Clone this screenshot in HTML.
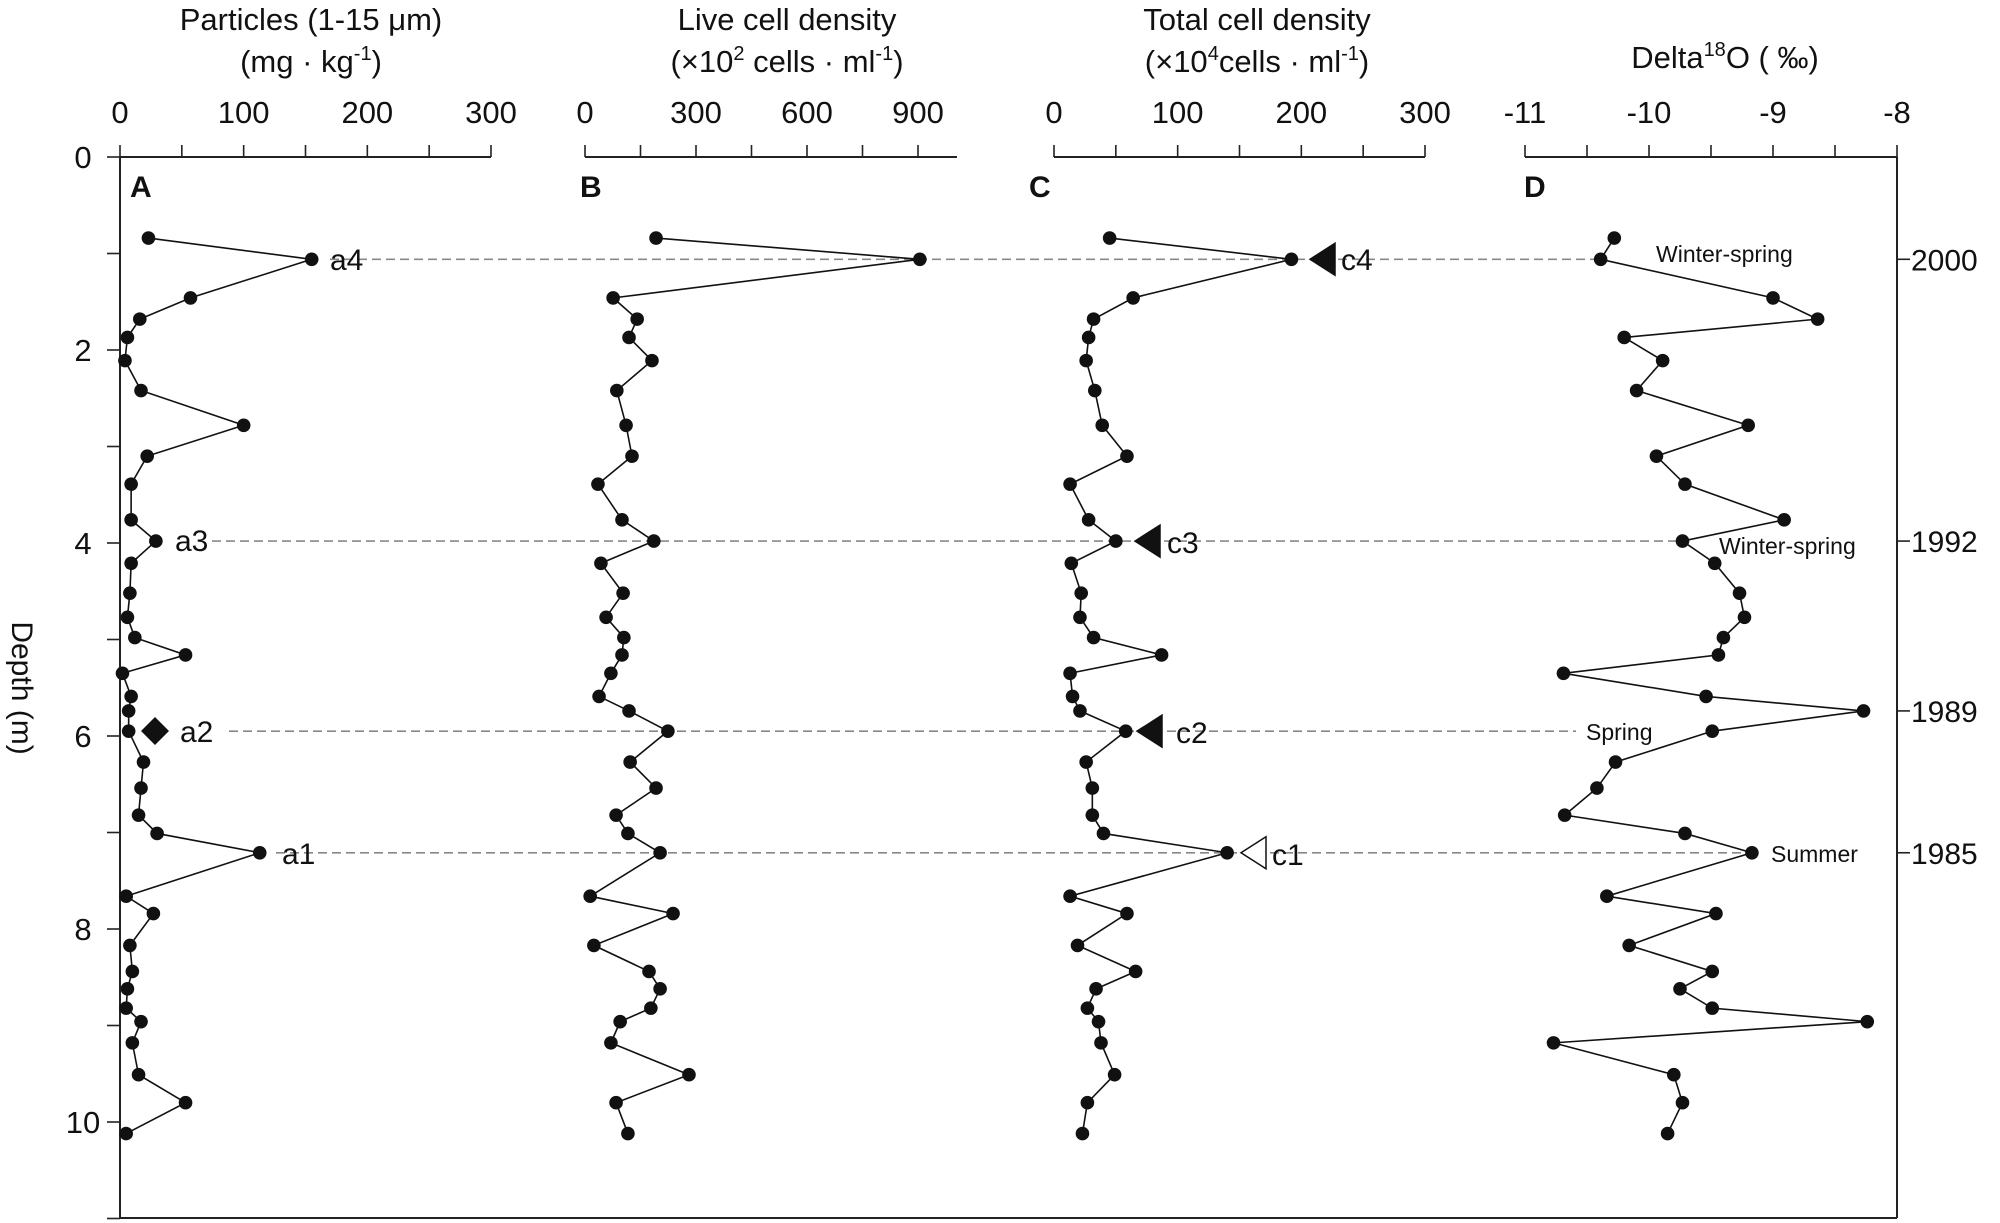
<!DOCTYPE html>
<html><head><meta charset="utf-8">
<style>
html,body{margin:0;padding:0;background:#fff;}
svg{display:block;font-family:"Liberation Sans",Arial,sans-serif;}
</style></head>
<body>
<svg id="chart" width="2000" height="1223" viewBox="0 0 2000 1223" xmlns="http://www.w3.org/2000/svg">
<g id="axes"></g>
<g id="marks"></g>
</svg>
<script>
const depths = [0.84,1.06,1.46,1.68,1.87,2.11,2.42,2.78,3.10,3.39,3.76,3.98,4.21,4.52,4.77,4.98,5.16,5.35,5.59,5.74,5.95,6.27,6.54,6.82,7.01,7.21,7.66,7.84,8.17,8.44,8.62,8.82,8.96,9.18,9.51,9.80,10.12];
const particles = [23,155,57,16,6,4,17,100,22,9,9,29,9,8,6,12,53,2,9,7,7,19,17,15,30,113,5,27,8,10,6,5,17,10,15,53,5];
const liveCells = [192,905,76,141,119,181,86,111,127,35,100,186,43,103,57,105,100,70,38,119,224,122,192,84,116,203,14,238,24,173,203,178,95,70,281,84,116];
const totalCells = [45,192,64,32,28,26,33,39,59,13,28,50,14,22,21,32,87,13,15,21,58,26,31,31,40,140,13,59,19,66,34,27,36,38,49,27,23];
const delta18O = [-10.28,-10.39,-9.00,-8.64,-10.20,-9.89,-10.10,-9.20,-9.94,-9.71,-8.91,-9.73,-9.47,-9.27,-9.23,-9.40,-9.44,-10.69,-9.54,-8.27,-9.49,-10.27,-10.42,-10.68,-9.71,-9.17,-10.34,-9.46,-10.16,-9.49,-9.75,-9.49,-8.24,-10.77,-9.80,-9.73,-9.85];
const depthTicks = [0,2,4,6,8,10];
const ticksA = [0,100,200,300];
const ticksB = [0,300,600,900];
const ticksC = [0,100,200,300];
const ticksD = [-11,-10,-9,-8];
const years = ["2000","1992","1989","1985"];
const yearDepths = [1.06,3.98,5.74,7.21];

const NS="http://www.w3.org/2000/svg";
const axes=document.getElementById('axes'), marks=document.getElementById('marks');
function el(tag,attrs,parent,txt){const e=document.createElementNS(NS,tag);for(const k in attrs)e.setAttribute(k,attrs[k]);if(txt!==undefined)e.textContent=txt;(parent||axes).appendChild(e);return e;}
const yOf=d=>157+d*96.5;
const panels=[
 {key:'a',x0:120,x1:491,v0:0,v1:300,minor:50,tmin:0,tmax:300,labels:ticksA,data:particles,end:491},
 {key:'b',x0:585,x1:918,v0:0,v1:900,minor:150,tmin:0,tmax:900,labels:ticksB,data:liveCells,end:957},
 {key:'c',x0:1054,x1:1425,v0:0,v1:300,minor:50,tmin:0,tmax:300,labels:ticksC,data:totalCells,end:1425},
 {key:'d',x0:1525,x1:1897,v0:-11,v1:-8,minor:0.5,tmin:-11,tmax:-8,labels:ticksD,data:delta18O,end:1897}
];
panels.forEach(p=>{p.x=v=>p.x0+(v-p.v0)/(p.v1-p.v0)*(p.x1-p.x0);});

panels.forEach(p=>{
  const l=el('line',{x1:p.x0,y1:157,x2:p.end,y2:157,stroke:'#222','stroke-width':2});
  
  
  for(let v=p.tmin;v<=p.tmax+1e-9;v+=p.minor){
    const t=el('line',{x1:p.x(v),y1:145,x2:p.x(v),y2:157,stroke:'#222','stroke-width':1.6});
    
    
  }
  p.labels.forEach(v=>{
    const t=el('text',{x:p.x(v),y:123,'font-size':31,'text-anchor':'middle',fill:'#111'},axes,String(v));
    
    
  });
});
const la=el('line',{x1:120,y1:157,x2:120,y2:1218,stroke:'#222','stroke-width':2});


const ra=el('line',{x1:1897,y1:157,x2:1897,y2:1218,stroke:'#222','stroke-width':2});


const ba=el('line',{x1:120,y1:1218,x2:1897,y2:1218,stroke:'#222','stroke-width':2});


for(let d=0;d<=11;d++){
  const t=el('line',{x1:107,y1:yOf(d),x2:120,y2:yOf(d),stroke:'#222','stroke-width':1.6});
  
  
}
depthTicks.forEach(d=>{
  const t=el('text',{x:83,y:yOf(d)+11,'font-size':31,'text-anchor':'middle',fill:'#111'},axes,String(d));
  
  
});
const dl=el('text',{x:0,y:0,'font-size':30,'text-anchor':'middle',fill:'#111',transform:'translate(12,688) rotate(90)'},axes,'Depth (m)');


years.forEach((yr,i)=>{
  const y=yOf(yearDepths[i]);
  const t=el('line',{x1:1897,y1:y,x2:1910,y2:y,stroke:'#222','stroke-width':1.6});
  
  
  const tx=el('text',{x:1911,y:y+11,'font-size':30,fill:'#111'},axes,yr);
  
  
});
</script>
<script>
function title(x,l1,l2html,name){
  const t1=el('text',{x:x,y:30,'font-size':31,'text-anchor':'middle',fill:'#111'},axes,l1);
  
  
  if(l2html){
    const g=el('text',{x:x,y:72,'font-size':31,'text-anchor':'middle',fill:'#111'},axes);
    g.innerHTML=l2html;
    
    
  }
}
title(311,'Particles (1-15 μm)','(mg · kg<tspan dy="-12" font-size="20">-1</tspan><tspan dy="12">)</tspan>','particles');
title(787,'Live cell density','(×10<tspan dy="-12" font-size="20">2</tspan><tspan dy="12"> cells · ml</tspan><tspan dy="-12" font-size="20">-1</tspan><tspan dy="12">)</tspan>','live-cell');
title(1257,'Total cell density','(×10<tspan dy="-12" font-size="20">4</tspan><tspan dy="12">cells · ml</tspan><tspan dy="-12" font-size="20">-1</tspan><tspan dy="12">)</tspan>','total-cell');
const dt=el('text',{x:1725,y:68,'font-size':31,'text-anchor':'middle',fill:'#111'},axes);
dt.innerHTML='Delta<tspan dy="-12" font-size="20">18</tspan><tspan dy="12">O ( ‰)</tspan>';


[['A',130],['B',580],['C',1029],['D',1524]].forEach(([s,x])=>{
  const t=el('text',{x:x,y:197,'font-size':30,'font-weight':'bold',fill:'#111'},axes,s);
  
  
});
[[1.06,330,1597],[3.98,212,1678],[5.95,229,1576],[7.21,276,1751]].forEach(([d,x1,x2])=>{
  const l=el('line',{x1:x1,y1:yOf(d),x2:x2,y2:yOf(d),stroke:'#888','stroke-width':1.6,'stroke-dasharray':'9,5'},marks);
  
  
});
panels.forEach(p=>{
  const pts=p.data.map((v,i)=>[p.x(v),yOf(depths[i])]);
  const pl=el('polyline',{points:pts.map(q=>q.join(',')).join(' '),fill:'none',stroke:'#111','stroke-width':1.6},marks);
  
  
  pts.forEach(q=>{
    const c=el('circle',{cx:q[0],cy:q[1],r:6.8,fill:'#111'},marks);
    
    
  });
});
function lbl(x,y,s,fs,name){const t=el('text',{x:x,y:y,'font-size':fs,fill:'#111'},marks,s);}
lbl(330,270,'a4',30,'label-a4');
lbl(175,551,'a3',30,'label-a3');
lbl(180,742,'a2',30,'label-a2');
lbl(282,864,'a1',30,'label-a1');
const dm=el('polygon',{points:'155,717 169,731 155,745 141,731',fill:'#111'},marks);


function tri(x,y,fill,name){const t=el('polygon',{points:`${x},${y} ${x+25},${y-16} ${x+25},${y+16}`,fill:fill,stroke:'#111','stroke-width':1.5},marks);}
tri(1310,yOf(1.06),'#111','marker-c4');
tri(1135,yOf(3.98),'#111','marker-c3');
tri(1137,yOf(5.95),'#111','marker-c2');
tri(1241,yOf(7.21),'#fff','marker-c1');
lbl(1341,270,'c4',30,'label-c4');
lbl(1167,553,'c3',30,'label-c3');
lbl(1176,743,'c2',30,'label-c2');
lbl(1272,865,'c1',30,'label-c1');
lbl(1656,262,'Winter-spring',23,'season-winter-spring-2000');
lbl(1719,554,'Winter-spring',23,'season-winter-spring-1992');
lbl(1586,740,'Spring',23,'season-spring');
lbl(1771,862,'Summer',23,'season-summer');
</script>
</body></html>
